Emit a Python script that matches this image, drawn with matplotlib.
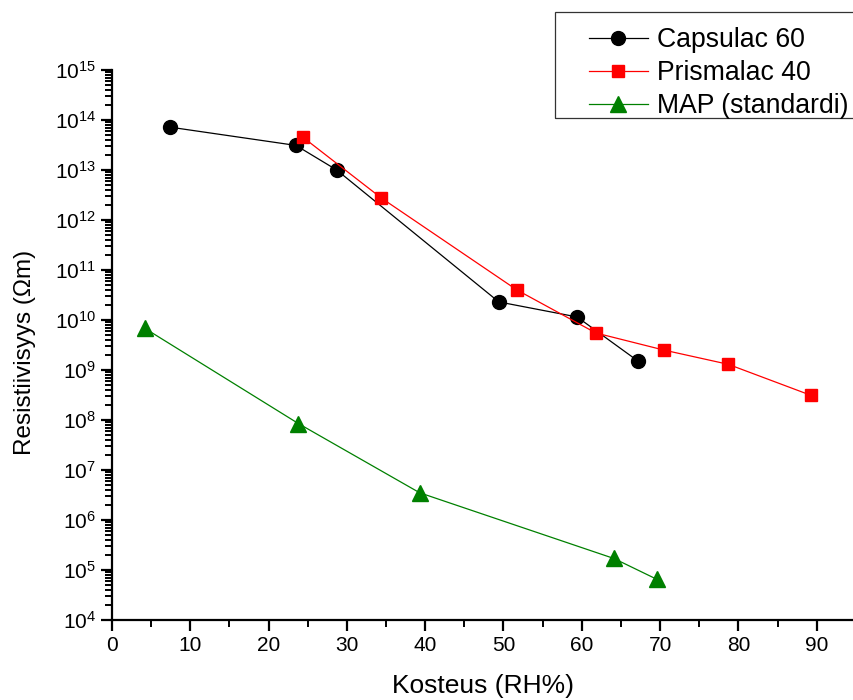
import numpy as np
import matplotlib
matplotlib.use('agg')
import matplotlib.pyplot as plt
from matplotlib.patches import Rectangle
from matplotlib.ticker import MultipleLocator, LogLocator, NullFormatter

plt.rcParams['font.family'] = ['Liberation Sans', 'DejaVu Sans']
plt.rcParams['mathtext.fontset'] = 'custom'
plt.rcParams['mathtext.rm'] = 'Liberation Sans'
plt.rcParams['mathtext.it'] = 'Liberation Sans'

# < -- data

capsulac_x = [7.4, 23.5, 28.7, 49.4, 59.4, 67.2]
capsulac_y = [7.2e13, 3.1e13, 1.0e13, 2.3e10, 1.15e10, 1.5e9]

prismalac_x = [24.4, 34.4, 51.7, 61.8, 70.5, 78.7, 89.3]
prismalac_y = [4.5e13, 2.75e12, 4.0e10, 5.5e9, 2.5e9, 1.3e9, 3.1e8]

map_x = [4.2, 23.8, 39.3, 64.1, 69.6]
map_y = [6.8e9, 8.5e7, 3.5e6, 1.7e5, 6.5e4]

labels = ['Capsulac 60', 'Prismalac 40', 'MAP (standardi)']

# < -- plot

fig = plt.figure(figsize=(8.54, 7.0), dpi=100)
ax = fig.add_axes([112/854, 80/700, 1 - 112/854, 550/700])

ax.plot(capsulac_x, capsulac_y, '-o', color='black', lw=0.9, ms=10, label=labels[0])
ax.plot(prismalac_x, prismalac_y, '-s', color='red', lw=0.9, ms=9, label=labels[1])
ax.plot(map_x, map_y, '-^', color='green', lw=0.9, ms=11, label=labels[2])

ax.set_yscale('log')
ax.set_ylim(1e4, 1e15)
ax.set_xlim(0, (854 - 112) / 7.83)

ax.xaxis.set_major_locator(MultipleLocator(10))
ax.xaxis.set_minor_locator(MultipleLocator(5))
ax.yaxis.set_major_locator(LogLocator(base=10, numticks=20))
ax.yaxis.set_minor_locator(LogLocator(base=10, subs=np.arange(2, 10), numticks=20))
ax.yaxis.set_minor_formatter(NullFormatter())

ax.spines['top'].set_visible(False)
ax.spines['right'].set_visible(False)
ax.spines['left'].set_linewidth(1.6)
ax.spines['bottom'].set_linewidth(1.6)
ax.tick_params(which='major', direction='out', length=8, width=1.6, labelsize=15)
ax.tick_params(which='minor', direction='out', length=5, width=1.4)

ax.set_xlabel('Kosteus (RH%)', fontsize=19, labelpad=14)
ax.set_ylabel('Resistiivisyys (\u03a9m)', fontsize=17.5)
ax.yaxis.set_label_coords(-0.1024, 0.487)

# legend box runs past the right edge, so draw the frame by hand
fig.patches.append(Rectangle((555/854, 1 - 118/700), 0.5, 106/700,
                             transform=fig.transFigure, fill=False,
                             edgecolor='#333333', lw=0.9))
leg = fig.legend(loc='upper left', bbox_to_anchor=(589/854, 1 - 27/700),
                 fontsize=19.2, frameon=False, handlelength=2.2,
                 borderpad=0, labelspacing=0.27, handletextpad=0.36,
                 borderaxespad=0)

fig.savefig('out.png', dpi=100)
plt.close(fig)
